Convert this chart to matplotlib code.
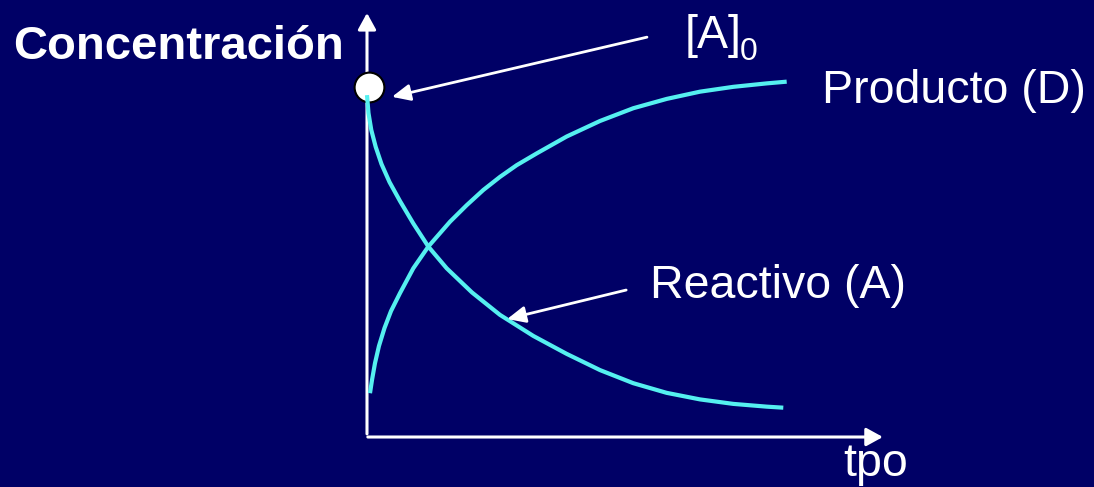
import matplotlib
matplotlib.use("Agg")
import matplotlib.pyplot as plt

# curve points (t in arbitrary time units, c relative to [A]0)
reactivo_t = [0.0, 0.036, 0.103, 0.209, 0.349, 0.541, 0.793, 1.113, 1.474, 1.916, 2.524,
              3.197, 3.998, 4.800, 5.601, 6.401, 7.204, 8.005, 8.805, 9.608, 10.007]
reactivo_c = [0.991, 0.939, 0.890, 0.841, 0.791, 0.739, 0.684, 0.619, 0.552, 0.489, 0.419,
              0.354, 0.293, 0.241, 0.194, 0.156, 0.128, 0.109, 0.096, 0.088, 0.085]

producto_t = [0.072, 0.120, 0.192, 0.288, 0.421, 0.577, 0.793, 1.113, 1.474, 1.995, 2.397, 2.796,
              3.197, 3.599, 4.079, 4.800, 5.601, 6.401, 7.204, 8.005, 8.805, 9.608, 10.089]
producto_c = [0.127, 0.165, 0.214, 0.264, 0.316, 0.365, 0.417, 0.489, 0.552, 0.624, 0.672, 0.716,
              0.754, 0.788, 0.822, 0.871, 0.916, 0.953, 0.980, 1.001, 1.015, 1.025, 1.030]

a0_t = [0.048]
a0_c = [1.014]

BG = "#000066"
CYAN = "#55F0F0"
FONT = "Liberation Sans"

fig = plt.figure(figsize=(10.94, 4.87), dpi=100, facecolor=BG)
ax = fig.add_axes([0, 0, 1, 1])
ax.set_facecolor(BG)
ax.set_xlim(-8.822, 17.476)
ax.set_ylim(-0.1449, 1.2667)
ax.axis("off")

# axes with arrow heads
axis_style = dict(arrowstyle="-|>,head_length=1.0,head_width=0.55", color="white",
                  lw=2.2, shrinkA=0, shrinkB=0, mutation_scale=10)
ax.annotate("", xy=(0, 1.229), xytext=(0, 0.009), arrowprops=axis_style)
ax.annotate("", xy=(12.40, 0), xytext=(0.02, 0), arrowprops=axis_style)

# [A]0 marker under the curves
ax.scatter(a0_t, a0_c, s=460, facecolor="white", edgecolor="black", linewidth=1.5, zorder=3)

ax.plot(reactivo_t, reactivo_c, color=CYAN, lw=3.0, solid_capstyle="butt", solid_joinstyle="round", zorder=4)
ax.plot(producto_t, producto_c, color=CYAN, lw=3.0, solid_capstyle="butt", solid_joinstyle="round", zorder=4)

# pointer arrows
ptr = dict(arrowstyle="-|>,head_length=1.1,head_width=0.5", color="white",
           lw=2.0, shrinkA=0, shrinkB=0, mutation_scale=10)
ax.annotate("", xy=(0.60, 0.986), xytext=(6.73, 1.159), arrowprops=ptr, zorder=5)
ax.annotate("", xy=(3.37, 0.342), xytext=(6.23, 0.426), arrowprops=ptr, zorder=5)

# labels
ax.text(-8.51, 1.096, "Concentración", color="white", fontsize=34, fontweight="bold",
        family=FONT, ha="left", va="baseline")
ax.text(7.64, 1.128, "[A]", color="white", fontsize=33.5, family=FONT, ha="left", va="baseline")
ax.text(8.97, 1.093, "0", color="white", fontsize=23, family=FONT, ha="left", va="baseline")
ax.text(10.94, 0.968, "Producto (D)", color="white", fontsize=33.5, family=FONT, ha="left", va="baseline")
ax.text(6.80, 0.403, "Reactivo (A)", color="white", fontsize=33.5, family=FONT, ha="left", va="baseline")
ax.text(11.44, -0.113, "tpo", color="white", fontsize=33.5, family=FONT, ha="left", va="baseline")

fig.savefig("out.png", dpi=100, facecolor=BG)
plt.close(fig)
